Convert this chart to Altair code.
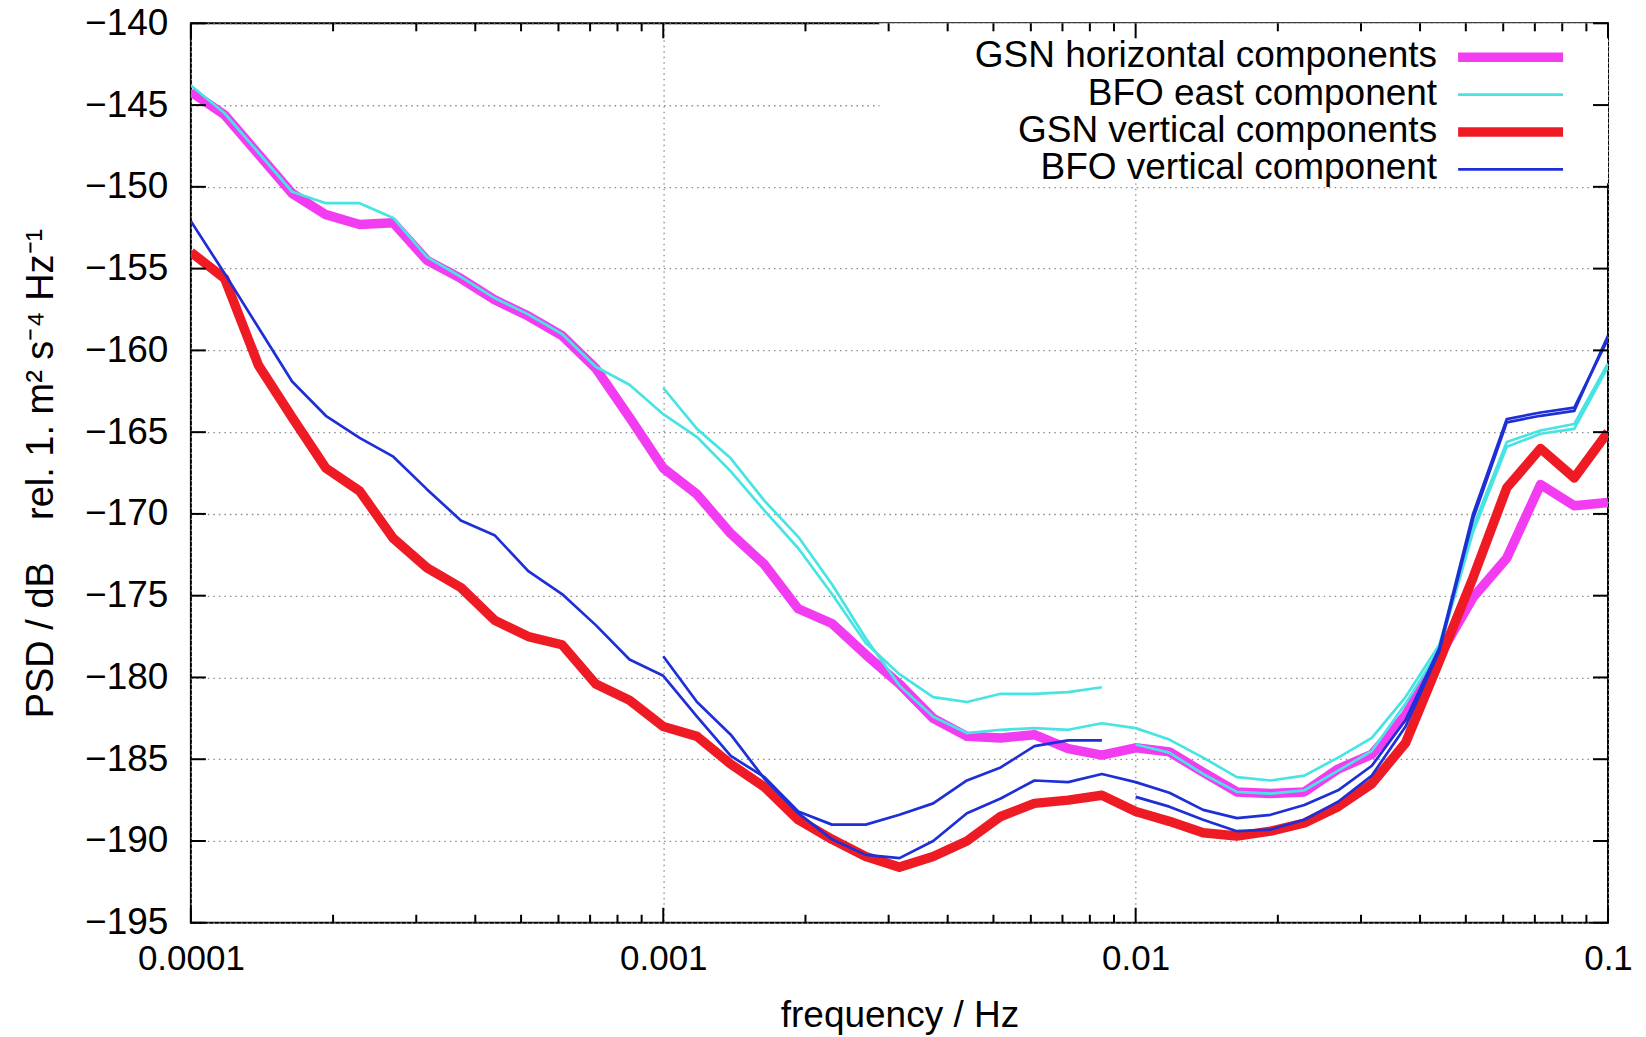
import altair as alt
import pandas as pd

# ---------------- data ----------------
FREQ = [1.0e-4, 1.1788e-4, 1.3895e-4, 1.6379e-4, 1.9307e-4, 2.2758e-4, 2.6827e-4,
        3.1623e-4, 3.7276e-4, 4.3940e-4, 5.1795e-4, 6.1054e-4, 7.1969e-4, 8.4834e-4,
        1.0e-3, 1.1788e-3, 1.3895e-3, 1.6379e-3, 1.9307e-3, 2.2758e-3, 2.6827e-3,
        3.1623e-3, 3.7276e-3, 4.3940e-3, 5.1795e-3, 6.1054e-3, 7.1969e-3, 8.4834e-3,
        1.0e-2, 1.1788e-2, 1.3895e-2, 1.6379e-2, 1.9307e-2, 2.2758e-2, 2.6827e-2,
        3.1623e-2, 3.7276e-2, 4.3940e-2, 5.1795e-2, 6.1054e-2, 7.1969e-2, 8.4834e-2,
        1.0e-1]

GSN_H = [-144.2, -145.6, -148.0, -150.4, -151.7, -152.3, -152.2, -154.5, -155.6, -156.9,
         -157.9, -159.1, -161.1, -164.1, -167.2, -168.8, -171.2, -173.1, -175.8, -176.7,
         -178.6, -180.4, -182.5, -183.6, -183.7, -183.5, -184.35, -184.75, -184.3, -184.55,
         -185.8, -187.0, -187.1, -187.0, -185.6, -184.7, -182.3, -178.7, -175.1, -172.7,
         -168.2, -169.5, -169.3]

BFO_E_1 = [-143.8, -145.5, -147.9, -150.3, -151.0, -151.0, -151.9, -154.3, -155.5, -156.8,
           -157.8, -159.0, -161.0, -162.1, -163.9, -165.3, -167.4, -169.8, -172.1, -174.9,
           -177.9, -179.8, -181.2, -181.5, -181.0, -181.0, -180.9, -180.6]
BFO_E_2 = [-162.3, -164.8, -166.6, -169.2, -171.4, -174.3, -177.6, -180.5, -182.4, -183.4,
           -183.2, -183.1, -183.2, -182.8, -183.1, -183.8, -184.9, -186.1, -186.3, -186.0,
           -184.9, -183.7, -181.2, -178.0, -170.8, -165.6, -164.9, -164.5, -160.8]
BFO_E_3 = [-184.1, -184.6, -185.9, -187.0, -187.1, -186.9, -185.7, -184.5, -181.6, -178.3,
           -171.1, -165.9, -165.1, -164.8, -161.0]

GSN_Z = [-154.0, -155.6, -160.9, -164.1, -167.2, -168.6, -171.5, -173.3, -174.5, -176.5,
         -177.5, -178.0, -180.4, -181.4, -183.0, -183.6, -185.3, -186.7, -188.7, -189.9,
         -190.95, -191.6, -190.95, -190.0, -188.5, -187.7, -187.5, -187.2, -188.2, -188.8,
         -189.5, -189.7, -189.4, -188.9, -187.9, -186.5, -184.0, -179.0, -173.9, -168.4,
         -166.0, -167.8, -165.0]

BFO_Z_1 = [-152.1, -155.3, -158.6, -161.9, -164.0, -165.35, -166.5, -168.5, -170.4, -171.3,
           -173.5, -174.9, -176.8, -178.9, -179.9, -182.4, -184.8, -186.1, -188.2, -189.0,
           -189.0, -188.4, -187.7, -186.3, -185.5, -184.2, -183.85, -183.85]
BFO_Z_2 = [-178.7, -181.5, -183.5, -186.2, -188.3, -189.9, -190.85, -191.05, -190.0, -188.3,
           -187.4, -186.3, -186.4, -185.9, -186.4, -187.05, -188.1, -188.6, -188.4, -187.8,
           -186.9, -185.4, -182.6, -178.2, -170.0, -164.2, -163.8, -163.5, -159.3]
BFO_Z_3 = [-187.3, -187.9, -188.7, -189.4, -189.3, -188.7, -187.6, -186.0, -183.0, -178.4,
           -170.3, -164.4, -164.0, -163.7, -159.1]

NAMES = ["GSN horizontal components", "BFO east component",
         "GSN vertical components", "BFO vertical component"]

# segments: (series, segment id, first frequency index, values)
SEGMENTS = [
    (NAMES[0], 1, 0, GSN_H),
    (NAMES[1], 1, 0, BFO_E_1),
    (NAMES[1], 2, 14, BFO_E_2),
    (NAMES[1], 3, 28, BFO_E_3),
    (NAMES[2], 1, 0, GSN_Z),
    (NAMES[3], 1, 0, BFO_Z_1),
    (NAMES[3], 2, 14, BFO_Z_2),
    (NAMES[3], 3, 28, BFO_Z_3),
]

X_MAJOR = [1e-4, 1e-3, 1e-2, 1e-1]
X_MINOR = [m * d for d in (1e-4, 1e-3, 1e-2) for m in range(2, 10)]
Y_TICKS = [-140, -145, -150, -155, -160, -165, -170, -175, -180, -185, -190, -195]

# ---------------- styles ----------------
COLORS = ["#f23cf2", "#48e3e3", "#ee1b24", "#1e2fd6"]
WIDTHS = [9.5, 2.7, 9.5, 2.7]
FONT = "Liberation Sans"
W, H = 1418, 900

rows = []
for name, seg, start, vals in SEGMENTS:
    for i, v in enumerate(vals):
        rows.append({"series": name, "seg": seg, "f": FREQ[start + i], "psd": v})
df = pd.DataFrame(rows)

xscale = alt.Scale(type="log", domain=[1e-4, 0.1], nice=False)
yscale = alt.Scale(domain=[-195, -140], nice=False, zero=False)

NB = "\u00a0"
x_axis = alt.Axis(values=X_MAJOR, format="~g", title="frequency / Hz",
                  grid=True, gridDash=[1.5, 4], gridColor="#8c8c8c", gridWidth=1.3,
                  ticks=False, tickSize=0, domain=False, labelFlush=False,
                  labelOverlap=False, labelFontSize=35, labelPadding=19,
                  titleFontSize=37, titlePadding=21)
y_axis = alt.Axis(values=Y_TICKS,
                  title="PSD / dB" + NB * 4 + "rel. 1. m\u00b2 s\u207b\u2074 Hz\u207b\u00b9",
                  grid=True, gridDash=[1.5, 4], gridColor="#8c8c8c", gridWidth=1.3,
                  ticks=False, tickSize=0, domain=False, labelFontSize=37,
                  labelPadding=23, titleFontSize=38, titlePadding=24, labelOverlap=False)

# white legend box (covers the grid behind the key)
box = alt.Chart(pd.DataFrame({"b": [0]})).mark_rect(fill="white").encode(
    x=alt.value(689), x2=alt.value(W), y=alt.value(0), y2=alt.value(160))

layers = [box]
for idx, name in enumerate(NAMES):
    layers.append(
        alt.Chart(df[df.series == name]).mark_line(
            color=COLORS[idx], strokeWidth=WIDTHS[idx], strokeJoin="round", clip=True
        ).encode(
            x=alt.X("f:Q", scale=xscale, axis=x_axis),
            y=alt.Y("psd:Q", scale=yscale, axis=y_axis),
            detail="seg:N",
        )
    )

# inward ticks on all four sides
xmaj = pd.DataFrame({"f": X_MAJOR})
xmin = pd.DataFrame({"f": X_MINOR})
ytk = pd.DataFrame({"psd": Y_TICKS})
tick_style = dict(color="black", strokeWidth=2)
tx = alt.X("f:Q", scale=xscale, axis=x_axis)
ty = alt.Y("psd:Q", scale=yscale, axis=y_axis)
layers += [
    alt.Chart(xmaj).mark_rule(**tick_style).encode(x=tx, y=alt.value(H), y2=alt.value(H - 15)),
    alt.Chart(xmaj).mark_rule(**tick_style).encode(x=tx, y=alt.value(0), y2=alt.value(15)),
    alt.Chart(xmin).mark_rule(**tick_style).encode(x=tx, y=alt.value(H), y2=alt.value(H - 8)),
    alt.Chart(xmin).mark_rule(**tick_style).encode(x=tx, y=alt.value(0), y2=alt.value(8)),
    alt.Chart(ytk).mark_rule(**tick_style).encode(y=ty, x=alt.value(0), x2=alt.value(15)),
    alt.Chart(ytk).mark_rule(**tick_style).encode(y=ty, x=alt.value(W - 15), x2=alt.value(W)),
]

# key: text right-aligned, sample line to its right
KEY_Y0, KEY_DY = 33.0, 37.4
for idx, name in enumerate(NAMES):
    one = pd.DataFrame({"name": [name]})
    yk = KEY_Y0 + idx * KEY_DY
    layers.append(
        alt.Chart(one).mark_text(align="right", baseline="middle", fontSize=37,
                                 font=FONT, color="black").encode(
            text="name:N", x=alt.value(1247), y=alt.value(yk))
    )
    layers.append(
        alt.Chart(one).mark_rule(color=COLORS[idx], strokeWidth=WIDTHS[idx]).encode(
            x=alt.value(1268), x2=alt.value(1373), y=alt.value(yk + 1))
    )

chart = (
    alt.layer(*layers)
    .properties(
        width=W, height=H,
        autosize=alt.AutoSizeParams(type="none"),
        padding={"left": 183, "top": 15, "right": 30, "bottom": 112},
        background="white",
    )
    .configure_view(stroke="black", strokeWidth=2)
    .configure_axis(labelFont=FONT, titleFont=FONT, labelColor="black",
                    titleColor="black", titleFontWeight="normal")
)

chart.save("out.html", embed_options={"renderer": "svg", "actions": False})
